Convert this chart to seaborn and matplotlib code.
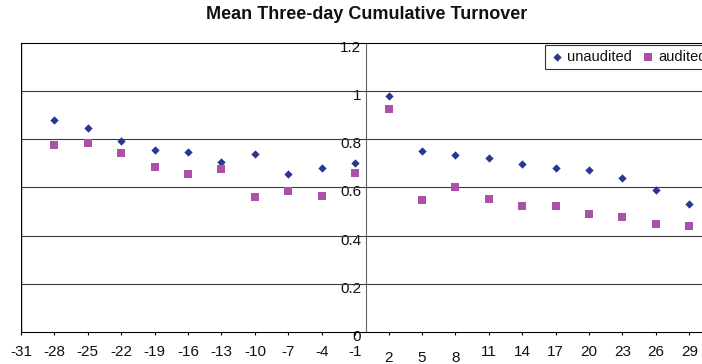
import matplotlib
matplotlib.use("Agg")
import matplotlib.pyplot as plt
import matplotlib.transforms as mtransforms
import numpy as np
import pandas as pd
import seaborn as sns

# Event days around the announcement (day 0)
days = [-28, -25, -22, -19, -16, -13, -10, -7, -4, -1,
        2, 5, 8, 11, 14, 17, 20, 23, 26, 29]

# Mean three-day cumulative turnover per group
unaudited = [0.878, 0.848, 0.792, 0.754, 0.745, 0.707, 0.738, 0.656, 0.679, 0.703,
             0.980, 0.752, 0.733, 0.723, 0.698, 0.679, 0.671, 0.639, 0.589, 0.530]
audited = [0.774, 0.785, 0.744, 0.685, 0.657, 0.676, 0.559, 0.583, 0.563, 0.661,
           0.923, 0.548, 0.602, 0.551, 0.524, 0.524, 0.489, 0.478, 0.448, 0.439]

x_ticks = list(range(-31, 30, 3))
y_ticks = [0, 0.2, 0.4, 0.6, 0.8, 1.0, 1.2]
y_tick_labels = ["0", "0.2", "0.4", "0.6", "0.8", "1", "1.2"]

title = "Mean Three-day Cumulative Turnover"

sns.set_style("white")
plt.rcParams["font.family"] = ["Liberation Sans", "DejaVu Sans"]

df = pd.DataFrame({"day": days, "unaudited": unaudited, "audited": audited})

W, H, DPI = 702, 364, 100
fig = plt.figure(figsize=(W / DPI, H / DPI), dpi=DPI)
ax = fig.add_axes([21 / W, 1 - 332 / H, 690.6 / W, (332 - 42.7) / H])

c_unaud = "#2B3592"
c_aud = "#AD50A8"

sns.scatterplot(data=df, x="day", y="unaudited", marker="D", s=18, color=c_unaud,
                linewidth=0, ax=ax, label="unaudited", zorder=3)
sns.scatterplot(data=df, x="day", y="audited", marker="s", s=28, color=c_aud,
                linewidth=0, ax=ax, label="audited", zorder=3)

ax.set_xlim(-31, 31)
ax.set_ylim(0, 1.2)
ax.set_xlabel("")
ax.set_ylabel("")

# horizontal gridlines
for v in y_ticks[1:-1]:
    ax.axhline(v, color="#3a3a3a", lw=0.8, zorder=1)

# y axis crosses at day 0
ax.spines["left"].set_position(("data", 0))
ax.spines["left"].set_color("#666666")
ax.spines["left"].set_linewidth(0.8)
for side in ("top", "bottom", "right"):
    ax.spines[side].set_color("black")
    ax.spines[side].set_linewidth(0.8)
# outer frame on the left edge
ax.axvline(-31, color="black", lw=1.0, zorder=2)

ax.set_xticks(x_ticks)
ax.set_xticklabels([str(t) for t in x_ticks])
ax.set_yticks(y_ticks)
ax.set_yticklabels(y_tick_labels)

ax.tick_params(axis="x", direction="out", length=2.4, width=0.8, color="black",
               pad=6.9, labelsize=11, labelcolor="#111111", bottom=True)
ax.tick_params(axis="y", direction="out", length=0, pad=3.8, labelsize=11,
               labelcolor="#111111", left=True)

# y labels sit a little below their gridline
for lab in ax.get_yticklabels():
    lab.set_transform(lab.get_transform() +
                      mtransforms.ScaledTranslation(0, -3.5 / DPI, fig.dpi_scale_trans))

# the first post-event labels are set lower, clear of the y-axis labels
for tick in ax.xaxis.get_major_ticks():
    if tick.get_loc() in (2, 5, 8):
        lab = tick.label1
        lab.set_transform(lab.get_transform() +
                          mtransforms.ScaledTranslation(0, -6 / DPI, fig.dpi_scale_trans))

ax.set_title(title, fontsize=13, fontweight="bold", pad=17, color="#111111")

leg = ax.legend(loc="upper left", bbox_to_anchor=(545 / W, 1 - 45 / H),
                bbox_transform=fig.transFigure, ncol=2, frameon=True,
                fancybox=False, fontsize=10.5, borderpad=0.35, handlelength=0.9,
                handletextpad=0.27, columnspacing=0.65, borderaxespad=0)
leg.get_frame().set_edgecolor("black")
leg.get_frame().set_linewidth(0.8)
for t in leg.get_texts():
    t.set_color("#111111")

fig.savefig("out.png", dpi=DPI)
